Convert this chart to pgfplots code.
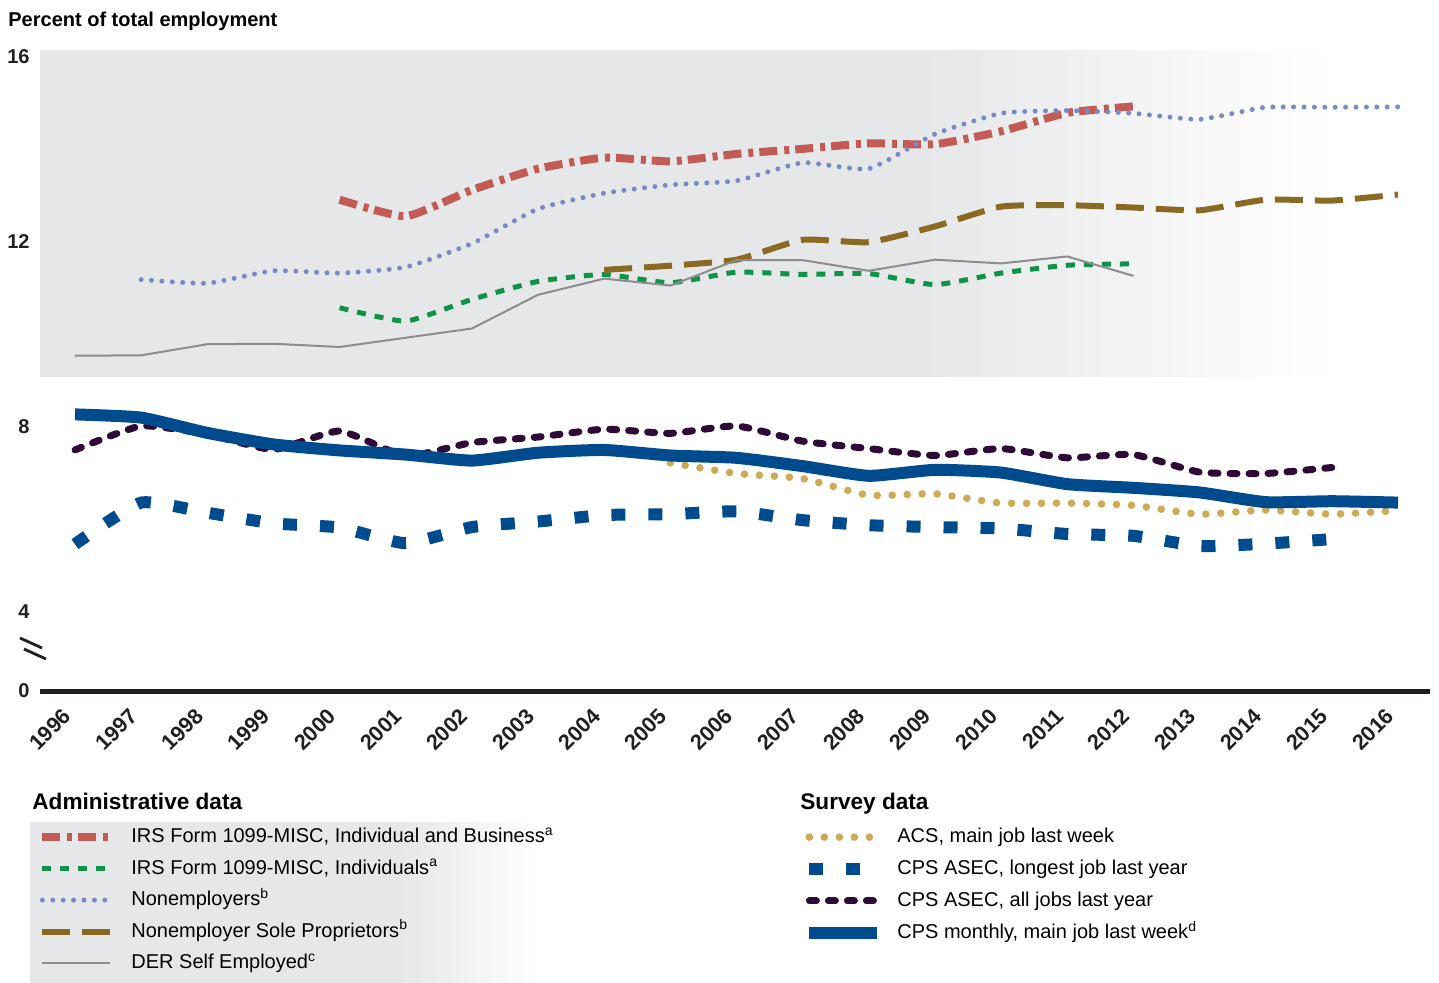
\documentclass[border=0pt]{standalone}
\usepackage{fontspec}
\setmainfont{Liberation Sans}
\usepackage{pgfplots}
\pgfplotsset{compat=1.18}
\definecolor{bggray}{HTML}{E6E7E8}
\definecolor{axisblack}{HTML}{231F20}
\definecolor{irsred}{HTML}{C25B56}
\definecolor{irsgreen}{HTML}{10924A}
\definecolor{nonblue}{HTML}{7A8AC6}
\definecolor{solebrown}{HTML}{8A6A22}
\definecolor{dergray}{HTML}{8D8D8D}
\definecolor{acsgold}{HTML}{CDAA55}
\definecolor{cpsblue}{HTML}{004B8D}
\definecolor{cpspurple}{HTML}{2E0B36}
\pgfdeclarehorizontalshading{bgfade}{100bp}{color(0bp)=(bggray); color(56.7bp)=(bggray); color(71.5bp)=(white); color(100bp)=(white)}
\pgfdeclarehorizontalshading{legfade}{100bp}{color(0bp)=(bggray); color(59.9bp)=(bggray); color(73.1bp)=(white); color(100bp)=(white)}
\pgfplotsset{
  redstyle/.style={irsred, line width=4pt, dash pattern=on 9pt off 3.5pt on 2.5pt off 3pt, smooth, tension=0.3},
  greenstyle/.style={irsgreen, line width=2.5pt, dash pattern=on 4.5pt off 4.5pt, smooth, tension=0.3},
  nonstyle/.style={nonblue, line width=2.5pt, line cap=round, dash pattern=on 0pt off 5.2pt, smooth, tension=0.3},
  solestyle/.style={solebrown, line width=3pt, dash pattern=on 14pt off 6pt, smooth, tension=0.3},
  derstyle/.style={dergray, line width=1pt},
  acsstyle/.style={acsgold, line width=3.8pt, line cap=round, dash pattern=on 0pt off 7.5pt, smooth, tension=0.3},
  longstyle/.style={cpsblue, line width=6pt, dash pattern=on 7pt off 11.5pt, smooth, tension=0.3},
  allstyle/.style={cpspurple, line width=3.5pt, line cap=round, dash pattern=on 3.5pt off 6pt, smooth, tension=0.3},
  monthstyle/.style={cpsblue, line width=6pt, line join=round, smooth, tension=0.3},
}
\begin{document}
\begin{tikzpicture}
\useasboundingbox (0,0) rectangle (719.5pt,491pt);
% legend background of administrative block
\shade[shading=legfade] (15pt,0pt) rectangle (280pt,80pt);
\node[anchor=base west,font=\fontsize{11.3}{13}\selectfont\bfseries,inner sep=0pt] at (16pt,86.5pt) {Administrative data};
\node[anchor=base west,font=\fontsize{11.3}{13}\selectfont\bfseries,inner sep=0pt] at (400pt,86.5pt) {Survey data};
\node[anchor=base west,font=\fontsize{10}{12}\selectfont\bfseries,inner sep=0pt] at (4pt,477.9pt) {Percent of total employment};
\begin{axis}[
  at={(20pt,145.5pt)}, anchor=south west, scale only axis,
  width=695pt, height=320.5pt,
  xmin=1995.471, xmax=2016.484, ymin=2.27, ymax=16.151,
  axis x line*=bottom, axis y line*=left,
  x axis line style={-, line width=2.5pt, draw=axisblack},
  y axis line style={draw=none},
  major tick length=0pt, tick style={draw=none},
  xtick={1996,1997,1998,1999,2000,2001,2002,2003,2004,2005,2006,2007,2008,2009,2010,2011,2012,2013,2014,2015,2016},
  xticklabels={1996,1997,1998,1999,2000,2001,2002,2003,2004,2005,2006,2007,2008,2009,2010,2011,2012,2013,2014,2015,2016},
  ytick={2.27,4,8,12,16}, yticklabels={0,4,8,12,16},
  ticklabel style={inner sep=0pt, text=axisblack},
  xticklabel style={xshift=-3.75pt, yshift=-10.5pt, rotate=45, anchor=east, font=\fontsize{10.8}{12}\selectfont\bfseries},
  yticklabel style={anchor=east, xshift=-5pt, font=\fontsize{10}{12}\selectfont\bfseries},
  legend style={at={(-0.00144,-0.2125)}, anchor=north west, draw=none, fill=none, inner sep=0pt,
    font=\fontsize{10}{12}\selectfont, row sep=5.25pt, column sep=8.5pt,
    nodes={inner sep=0pt, text height=7.5pt, text depth=3pt}, cells={anchor=west}},
  legend image code/.code={\draw[#1] (0pt,0.5pt) -- (34pt,0.5pt);},
]
\shade[shading=bgfade] (axis cs:1995.471,9.09) rectangle (axis cs:2016.484,16.151);

\addplot[redstyle] coordinates {(2000,12.91) (2001,12.55) (2002,13.12) (2003,13.58) (2004,13.82) (2005,13.74) (2006,13.90) (2007,14.01) (2008,14.13) (2009,14.11) (2010,14.39) (2011,14.79) (2012,14.93)};
\addlegendentry{IRS Form 1099-MISC, Individual and Business\textsuperscript{a}}
\addplot[greenstyle] coordinates {(2000,10.57) (2001,10.28) (2002,10.75) (2003,11.14) (2004,11.29) (2005,11.11) (2006,11.34) (2007,11.29) (2008,11.31) (2009,11.07) (2010,11.32) (2011,11.49) (2012,11.52)};
\addlegendentry{IRS Form 1099-MISC, Individuals\textsuperscript{a}}
\addplot[nonstyle] coordinates {(1997,11.18) (1998,11.10) (1999,11.37) (2000,11.32) (2001,11.45) (2002,11.96) (2003,12.71) (2004,13.05) (2005,13.23) (2006,13.32) (2007,13.71) (2008,13.58) (2009,14.33) (2010,14.78) (2011,14.84) (2012,14.78) (2013,14.65) (2014,14.91) (2015,14.91) (2016,14.92)};
\addlegendentry{Nonemployers\textsuperscript{b}}
\addplot[solestyle] coordinates {(2004,11.39) (2005,11.48) (2006,11.61) (2007,12.04) (2008,11.99) (2009,12.33) (2010,12.76) (2011,12.79) (2012,12.74) (2013,12.68) (2014,12.91) (2015,12.89) (2016,13.02)};
\addlegendentry{Nonemployer Sole Proprietors\textsuperscript{b}}
\addplot[derstyle] coordinates {(1996,9.53) (1997,9.54) (1998,9.78) (1999,9.79) (2000,9.72) (2001,9.92) (2002,10.12) (2003,10.85) (2004,11.20) (2005,11.05) (2006,11.60) (2007,11.60) (2008,11.37) (2009,11.61) (2010,11.53) (2011,11.68) (2012,11.26)};
\addlegendentry{DER Self Employed\textsuperscript{c}}

\addplot[acsstyle, forget plot] coordinates {(2005,7.21) (2006,6.98) (2007,6.87) (2008,6.51) (2009,6.54) (2010,6.34) (2011,6.34) (2012,6.29) (2013,6.10) (2014,6.19) (2015,6.10) (2016,6.18)};
\addplot[longstyle, forget plot] coordinates {(1996,5.45) (1997,6.35) (1998,6.13) (1999,5.90) (2000,5.81) (2001,5.47) (2002,5.82) (2003,5.94) (2004,6.08) (2005,6.10) (2006,6.16) (2007,5.97) (2008,5.86) (2009,5.82) (2010,5.79) (2011,5.67) (2012,5.63) (2013,5.41) (2014,5.46) (2015,5.56)};
\addplot[allstyle, forget plot] coordinates {(1996,7.49) (1997,8.01) (1998,7.83) (1999,7.50) (2000,7.90) (2001,7.36) (2002,7.65) (2003,7.77) (2004,7.94) (2005,7.85) (2006,8.01) (2007,7.68) (2008,7.52) (2009,7.37) (2010,7.52) (2011,7.32) (2012,7.39) (2013,7.01) (2014,6.98) (2015,7.11)};
\addplot[monthstyle, forget plot] coordinates {(1996,8.26) (1997,8.19) (1998,7.86) (1999,7.61) (2000,7.48) (2001,7.39) (2002,7.26) (2003,7.43) (2004,7.49) (2005,7.37) (2006,7.32) (2007,7.14) (2008,6.93) (2009,7.06) (2010,7.00) (2011,6.75) (2012,6.67) (2013,6.57) (2014,6.36) (2015,6.38) (2016,6.35)};
\end{axis}
\begin{axis}[
  at={(20pt,145.5pt)}, anchor=south west, scale only axis,
  width=695pt, height=320.5pt,
  xmin=1995.471, xmax=2016.484, ymin=2.27, ymax=16.151,
  hide axis,
  legend style={at={(0.5489,-0.2125)}, anchor=north west, draw=none, fill=none, inner sep=0pt,
    font=\fontsize{10}{12}\selectfont, row sep=5.45pt, column sep=7pt,
    nodes={inner sep=0pt, text height=7.5pt, text depth=3pt}, cells={anchor=west}},
  legend image code/.code={\draw[#1] (0pt,0.5pt) -- (34pt,0.5pt);},
]
\addlegendimage{acsstyle}
\addlegendentry{ACS, main job last week}
\addlegendimage{longstyle}
\addlegendentry{CPS ASEC, longest job last year}
\addlegendimage{allstyle}
\addlegendentry{CPS ASEC, all jobs last year}
\addlegendimage{monthstyle}
\addlegendentry{CPS monthly, main job last week\textsuperscript{d}}
\end{axis}
% axis break mark
\draw[axisblack, line width=1.4pt] (10pt,172pt) -- (21pt,167pt);
\draw[axisblack, line width=1.4pt] (12pt,166.5pt) -- (23pt,161.5pt);
\end{tikzpicture}
\end{document}
